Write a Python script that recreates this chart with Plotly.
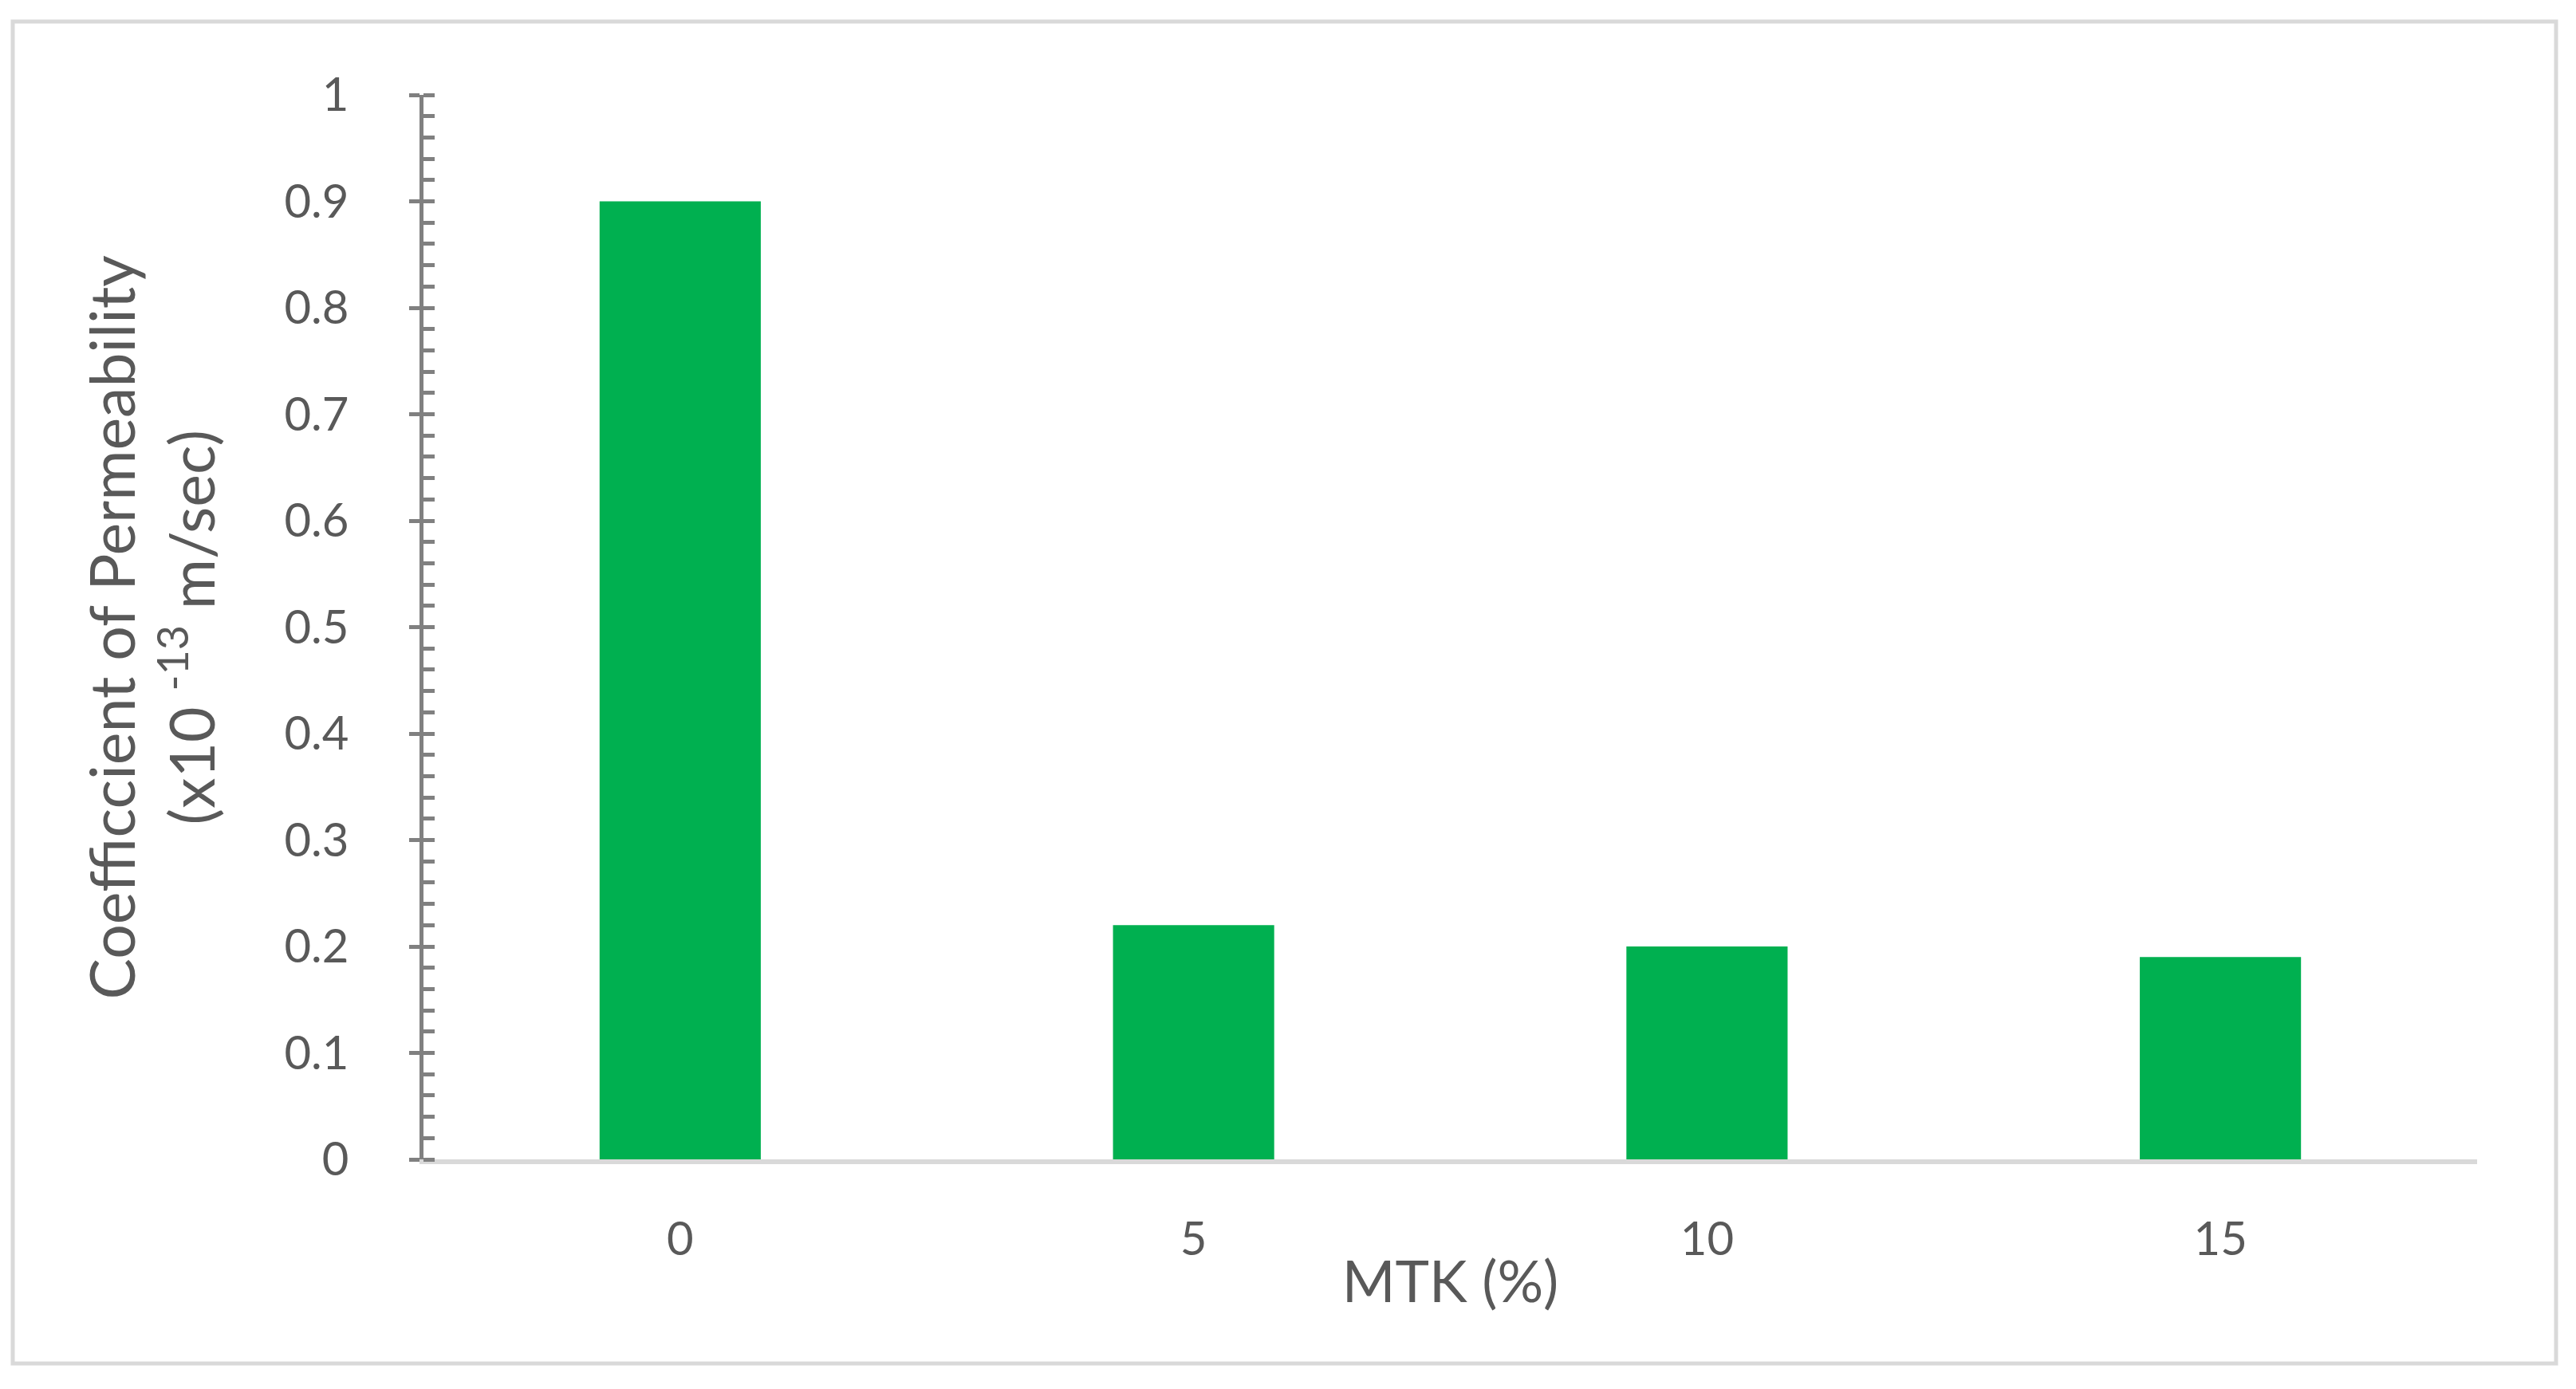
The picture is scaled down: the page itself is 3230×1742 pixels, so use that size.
import plotly.graph_objects as go

# MTK replacement level (%) and coefficient of permeability (x10^-13 m/sec)
mtk = ["0", "5", "10", "15"]
permeability = [0.90, 0.22, 0.20, 0.19]

# page has an 8px body margin, so the figure is a bit smaller than the window
W, H = 3214, 1726
L, R, T, B = 523, 116, 111, 280
FONT = "Lato, Open Sans, sans-serif"
TXT = "#595959"
AX = "#808080"

fig = go.Figure()
fig.add_trace(go.Bar(x=mtk, y=permeability, marker_color="#00B050",
                     marker_line_width=0, width=0.314, showlegend=False))
# invisible trace so the overlay axis (inner half of the major ticks) gets drawn
fig.add_trace(go.Scatter(x=mtk, y=permeability, yaxis="y2", mode="none",
                         showlegend=False, hoverinfo="skip"))

pw = W - L - R
ph = H - T - B
# outer chart-area border
fig.add_shape(type="rect", xref="paper", yref="paper",
              x0=(8 - L) / pw, x1=(3197 - L) / pw,
              y0=(H - B - 1702) / ph, y1=(H - B - 19) / ph,
              line=dict(color="#d9d9d9", width=5), layer="below")

# y-axis title (two lines, rotated)
fig.add_annotation(text="Coefficcient of Permeability<br>(x10 <sup>-13</sup> m/sec)",
                   xref="paper", yref="paper", x=(180 - L) / pw, y=0.5,
                   xanchor="center", yanchor="middle", textangle=-90,
                   showarrow=False, font=dict(size=77, color=TXT, family=FONT))

fig.update_layout(
    width=W, height=H,
    margin=dict(l=L, r=R, t=T, b=B, autoexpand=False),
    plot_bgcolor="white", paper_bgcolor="white",
    font=dict(family=FONT, color=TXT, size=58),
    xaxis=dict(type="category", showline=True, linecolor="#d9d9d9", linewidth=6,
               ticks="", showgrid=False, zeroline=False, ticklabelstandoff=44,
               tickfont=dict(size=58, color=TXT),
               title=dict(text="MTK (%)", font=dict(size=72, color=TXT), standoff=0),
               automargin=False),
    yaxis=dict(range=[0, 1], dtick=0.1, tickformat="~g", showgrid=False, zeroline=False,
               showline=True, linecolor=AX, linewidth=5,
               ticks="outside", ticklen=13, tickwidth=5, tickcolor=AX,
               minor=dict(dtick=0.02, ticks="inside", ticklen=14, tickwidth=5, tickcolor=AX),
               ticklabelstandoff=64, tickfont=dict(size=58, color=TXT),
               automargin=False),
    yaxis2=dict(range=[0, 1], dtick=0.1, overlaying="y", anchor="x", side="left",
                showgrid=False, zeroline=False, showline=False, showticklabels=False,
                ticks="inside", ticklen=14, tickwidth=5, tickcolor=AX),
)

fig.write_html("out.html")
